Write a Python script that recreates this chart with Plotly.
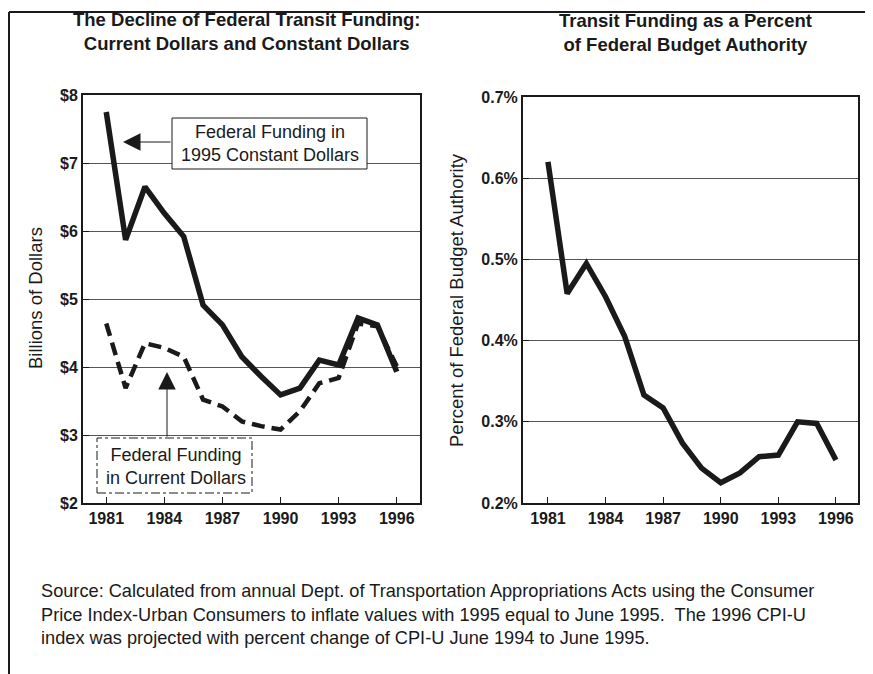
import plotly.graph_objects as go

# page body has an 8px margin, so the figure is drawn 8px in from the window edge
PAGE_W, PAGE_H = 873, 674
OFF = 8
W, H = PAGE_W - OFF, PAGE_H - OFF

YEARS = list(range(1981, 1997))
CONSTANT_DOLLARS = [7.75, 5.87, 6.65, 6.26, 5.92, 4.91, 4.62, 4.15, 3.86, 3.59,
                    3.69, 4.10, 4.03, 4.72, 4.62, 3.93]
CURRENT_DOLLARS = [4.64, 3.69, 4.35, 4.28, 4.15, 3.52, 3.42, 3.20, 3.13, 3.08,
                   3.35, 3.76, 3.84, 4.64, 4.60, 4.01]
PCT_BUDGET = [0.620, 0.458, 0.495, 0.454, 0.405, 0.333, 0.317, 0.274, 0.243, 0.225,
              0.237, 0.257, 0.259, 0.300, 0.298, 0.253]

X_TICKS = [1981, 1984, 1987, 1990, 1993, 1996]
DOLLAR_TICKS = [2, 3, 4, 5, 6, 7, 8]
DOLLAR_LABELS = ["$2", "$3", "$4", "$5", "$6", "$7", "$8"]
PCT_TICKS = [0.2, 0.3, 0.4, 0.5, 0.6, 0.7]
PCT_LABELS = ["0.2%", "0.3%", "0.4%", "0.5%", "0.6%", "0.7%"]

FONT = "Liberation Sans, Arial, sans-serif"
INK = "#1a1a1a"


def px(x):
    # window pixel -> paper fraction
    return (x - OFF) / W


def py(y):
    return 1 - (y - OFF) / H


fig = go.Figure()

fig.add_trace(go.Scatter(x=YEARS, y=CONSTANT_DOLLARS, mode="lines",
                         line=dict(color=INK, width=5.5), xaxis="x", yaxis="y"))
fig.add_trace(go.Scatter(x=YEARS, y=CURRENT_DOLLARS, mode="lines",
                         line=dict(color=INK, width=4.5, dash="13px,7px"), xaxis="x", yaxis="y"))
fig.add_trace(go.Scatter(x=YEARS, y=PCT_BUDGET, mode="lines",
                         line=dict(color=INK, width=5.5), xaxis="x2", yaxis="y2"))

axis_common = dict(showline=True, linecolor=INK, linewidth=2, mirror=True,
                   ticks="inside", ticklen=6, tickcolor=INK, zeroline=False,
                   automargin=False,
                   tickfont=dict(family=FONT, size=16, color=INK, weight="bold"))

fig.update_layout(
    template="none",
    width=W, height=H,
    margin=dict(l=0, r=0, t=0, b=0, pad=0),
    paper_bgcolor="white", plot_bgcolor="white",
    showlegend=False,
    font=dict(family=FONT, color=INK),
    xaxis=dict(domain=[px(83), px(420)], range=[1979.8, 1997.2], tickvals=X_TICKS,
               showgrid=False, anchor="y", **axis_common),
    yaxis=dict(domain=[py(503), py(95)], range=[2, 8], tickvals=DOLLAR_TICKS,
               ticktext=DOLLAR_LABELS, showgrid=True, gridcolor="#555", gridwidth=1,
               anchor="x", **axis_common),
    xaxis2=dict(domain=[px(523), px(858)], range=[1979.7, 1997.15], tickvals=X_TICKS,
                showgrid=False, anchor="y2", **axis_common),
    yaxis2=dict(domain=[py(503), py(97)], range=[0.2, 0.7], tickvals=PCT_TICKS,
                ticktext=PCT_LABELS, showgrid=True, gridcolor="#555", gridwidth=1,
                anchor="x2", **axis_common),
)

# Outer frame
fig.add_shape(type="line", xref="paper", yref="paper", x0=px(9), x1=px(9), y0=0, y1=py(12),
              line=dict(color=INK, width=2))
fig.add_shape(type="line", xref="paper", yref="paper", x0=px(9), x1=1, y0=py(12), y1=py(12),
              line=dict(color=INK, width=2))

# Titles
fig.add_annotation(xref="paper", yref="paper", x=px(247), y=py(32), xanchor="center",
                   yanchor="middle", showarrow=False,
                   text="<b>The Decline of Federal Transit Funding:<br>Current Dollars and Constant Dollars</b>",
                   font=dict(family=FONT, size=18.5, color=INK))
fig.add_annotation(xref="paper", yref="paper", x=px(685), y=py(33), xanchor="center",
                   yanchor="middle", showarrow=False,
                   text="<b>Transit Funding as a Percent<br>of Federal Budget Authority</b>",
                   font=dict(family=FONT, size=18.5, color=INK))

# Axis titles
fig.add_annotation(xref="paper", yref="paper", x=px(35), y=py(298), xanchor="center",
                   yanchor="middle", showarrow=False, textangle=-90,
                   text="Billions of Dollars", font=dict(family=FONT, size=18.5, color=INK))
fig.add_annotation(xref="paper", yref="paper", x=px(456), y=py(300), xanchor="center",
                   yanchor="middle", showarrow=False, textangle=-90,
                   text="Percent of Federal Budget Authority",
                   font=dict(family=FONT, size=18.5, color=INK))

# Callout boxes
fig.add_shape(type="rect", xref="paper", yref="paper", x0=px(172), x1=px(367),
              y0=py(169), y1=py(118), fillcolor="white", layer="above",
              line=dict(color=INK, width=1))
fig.add_annotation(xref="paper", yref="paper", x=px(270), y=py(143), xanchor="center",
                   yanchor="middle", showarrow=False,
                   text="Federal Funding in<br>1995 Constant Dollars",
                   font=dict(family=FONT, size=18, color=INK))
fig.add_annotation(xref="paper", yref="paper", x=px(123), y=py(142), showarrow=True,
                   ax=49, ay=0, arrowhead=2, arrowsize=3.5, arrowwidth=1, arrowcolor=INK,
                   text="")

fig.add_shape(type="rect", xref="paper", yref="paper", x0=px(97), x1=px(252),
              y0=py(493), y1=py(438), fillcolor="white", layer="above",
              line=dict(color=INK, width=1, dash="dashdot"))
fig.add_annotation(xref="paper", yref="paper", x=px(176), y=py(466), xanchor="center",
                   yanchor="middle", showarrow=False,
                   text="Federal Funding<br>in Current Dollars",
                   font=dict(family=FONT, size=18, color=INK))
fig.add_annotation(xref="paper", yref="paper", x=px(167), y=py(372), showarrow=True,
                   ax=0, ay=66, arrowhead=2, arrowsize=3.5, arrowwidth=1, arrowcolor=INK,
                   text="")

# Source note
fig.add_annotation(xref="paper", yref="paper", x=px(39), y=py(614), xanchor="left",
                   yanchor="middle", align="left", showarrow=False,
                   text=("Source: Calculated from annual Dept. of Transportation Appropriations Acts using the Consumer<br>"
                         "Price Index-Urban Consumers to inflate values with 1995 equal to June 1995.  The 1996 CPI-U<br>"
                         "index was projected with percent change of CPI-U June 1994 to June 1995."),
                   font=dict(family=FONT, size=18.2, color=INK))

fig.write_html("out.html")
